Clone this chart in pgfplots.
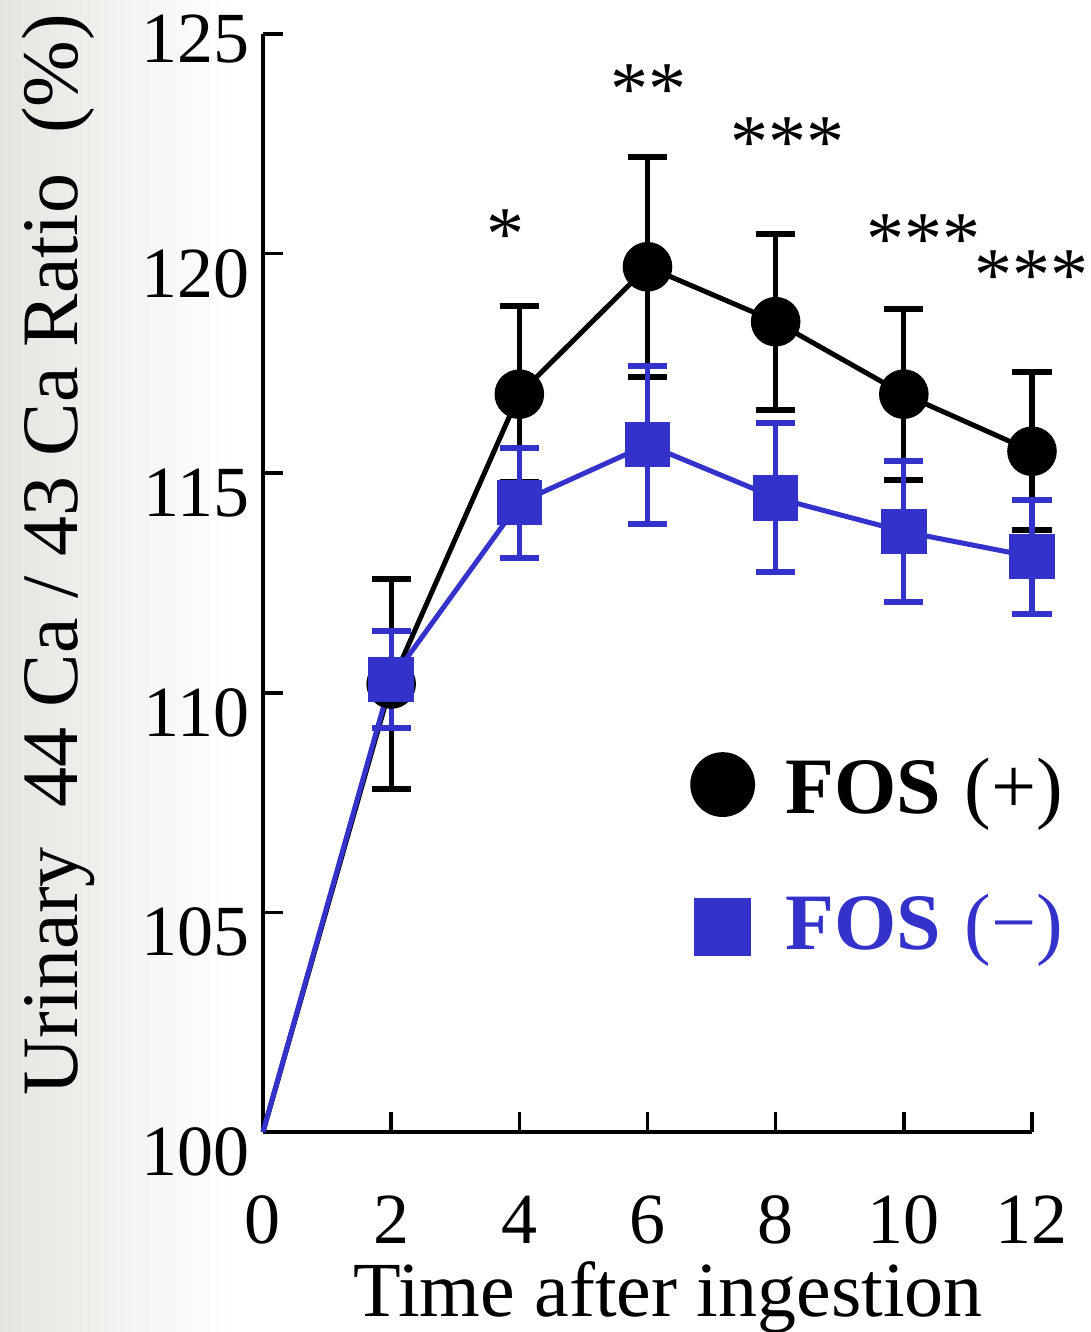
\documentclass[border=0pt]{standalone}
\usepackage{fontspec}
\setmainfont{Liberation Serif}
\usepackage{pgfplots}
\usepackage{pgfplotstable}
\pgfplotsset{compat=1.18}
\definecolor{fosblue}{RGB}{51,51,204}
\definecolor{bggray}{RGB}{230,228,223}

% FOS (+): time, mean ratio (%), error
\pgfplotstableread{
t   m      e
0   100    0
2   110.2  2.4
4   116.8  2.0
6   119.7  2.5
8   118.45 2.0
10  116.8  1.95
12  115.5  1.8
}\fosplus
% FOS (-)
\pgfplotstableread{
t   m      e
0   100    0
2   110.3  1.1
4   114.33 1.25
6   115.65 1.8
8   114.44 1.7
10  113.67 1.6
12  113.1  1.3
}\fosminus

\begin{document}
\begin{tikzpicture}
\useasboundingbox (-65.75pt,-50pt) rectangle (207pt,283pt);
\shade[left color=bggray, right color=white] (-65.75pt,-50pt) rectangle (-8pt,283pt);
\begin{axis}[
  at={(0pt,0pt)}, anchor=south west,
  scale only axis, width=192.25pt, height=274.5pt,
  xmin=0, xmax=12, ymin=100, ymax=125,
  axis x line*=bottom, axis y line*=left,
  axis line style={line width=1pt, -},
  xtick={0,2,...,12}, ytick={100,105,...,120},
  extra y ticks={125},
  extra y tick style={yticklabel style={yshift=3.7pt}},
  tick align=inside, major tick length=5pt,
  tick style={line width=0.9pt, black},
  /pgf/number format/assume math mode=true,
  tick label style={font=\fontsize{18}{20}\selectfont},
  yticklabel style={anchor=east, inner sep=0pt, xshift=-3.25pt, yshift=-5pt},
  xticklabel style={anchor=base, inner sep=0pt, yshift=-27.75pt},
  clip=false,
  legend style={draw=none, fill=none, at={(axis cs:6.68,108.63)}, anchor=north west,
    inner sep=0pt, outer sep=0pt, column sep=7.75pt, row sep=18.75pt,
    nodes={inner sep=0pt, yshift=5.5pt}, font=\fontsize{20}{24}\selectfont},
  legend cell align=left,
  legend image code/.code={\draw[#1] plot coordinates {(0pt,0pt)};},
]
% FOS (+)
\addplot[black, line width=1.25pt, mark=none, forget plot] table[x=t,y=m]{\fosplus};
\addplot[black, only marks, mark=*, mark size=6pt, forget plot,
  skip coords between index={0}{1},
  error bars/.cd, y dir=both, y explicit,
  error bar style={line width=1.3pt},
  error mark options={rotate=90, line width=1.5pt, mark size=4.9pt}]
  table[x=t,y=m,y error=e]{\fosplus};
% FOS (-)
\addplot[fosblue, line width=1.25pt, mark=none, forget plot] table[x=t,y=m]{\fosminus};
\addplot[fosblue, only marks, mark=square*, mark size=5.5pt, forget plot,
  skip coords between index={0}{1},
  error bars/.cd, y dir=both, y explicit,
  error bar style={line width=1.3pt},
  error mark options={rotate=90, line width=1.5pt, mark size=4.9pt}]
  table[x=t,y=m,y error=e]{\fosminus};

\addlegendimage{black, only marks, mark=*, mark size=7.9pt, mark options={yshift=6.5pt}}
\addlegendentry{\textbf{FOS}\hspace{6pt}(+)}
\addlegendimage{fosblue, only marks, mark=square*, mark size=7pt, mark options={yshift=5pt}}
\addlegendentry{\textcolor{fosblue}{\textbf{FOS}\hspace{6pt}(−)}}

% significance marks
\node[font=\fontsize{19}{21}\selectfont] at (axis cs:3.78,120.43) {*};
\node[font=\fontsize{19}{21}\selectfont] at (axis cs:6.02,123.73) {**};
\node[font=\fontsize{19}{21}\selectfont] at (axis cs:8.18,122.52) {***};
\node[font=\fontsize{19}{21}\selectfont] at (axis cs:10.30,120.31) {***};
\node[font=\fontsize{19}{21}\selectfont] at (axis cs:11.99,119.49) {***};

% axis titles
\node[rotate=90, anchor=base, font=\fontsize{20}{24}\selectfont]
  at (axis cs:-2.90,113.14) {Urinary\ \ 44 Ca / 43 Ca Ratio\ \ (\%)};
\node[anchor=base, font=\fontsize{19.5}{22}\selectfont]
  at (axis cs:6.32,95.79) {Time after ingestion};
\end{axis}
\end{tikzpicture}
\end{document}
